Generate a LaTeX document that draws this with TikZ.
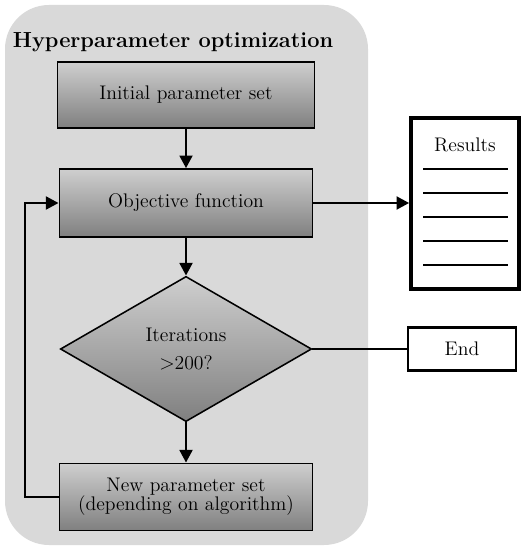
\documentclass[tikz,border=0pt]{standalone}
\usetikzlibrary{arrows.meta,shapes.geometric}
\definecolor{panelgray}{HTML}{D9D9D9}
\tikzset{
  box/.style={draw, line width=1.1pt, top color=gray!38, bottom color=gray!100,
    minimum width=6.33cm, minimum height=1.7cm, align=center, inner sep=2pt,
    font=\fontsize{14}{15.5}\selectfont},
  arr/.style={line width=2pt, -{Triangle[length=9pt,width=9pt]}, line join=miter}
}
\begin{document}
\begin{tikzpicture}[x=0.025cm,y=-0.025cm]
    \useasboundingbox (0,0) rectangle (530,550);
    % grey panel
    \fill[panelgray, rounded corners=1.1cm] (5,5) rectangle (368,545);
    \node (title) at (173,42) {\fontsize{15.5}{17}\selectfont\bfseries Hyperparameter optimization};
    % flow
    \node[box, minimum width=6.42cm, minimum height=1.65cm] (init) at (186,95) {Initial parameter set};
    \node[box] (obj) at (186,203) {Objective function};
    \node[box, shape=diamond, minimum width=6.28cm, minimum height=3.63cm, aspect=1.73, inner sep=0pt]
        (iter) at (186,349) {Iterations\\[4pt]$>$200?};
    \node[box, minimum height=1.68cm, font=\fontsize{14}{13.5}\selectfont] (new) at (186,497) {New parameter set\\(depending on algorithm)};
    % outputs
    \node[draw, fill=white, line width=2.5pt, minimum width=2.7cm, minimum height=4.28cm] (res) at (465,203.5) {};
    \node[font=\fontsize{14}{15.5}\selectfont] (restxt) at (465,145) {Results};
    \foreach \y in {169,193,217,241,265}
        \draw[line width=0.8pt] (423,\y) -- (508,\y);
    \node[draw, fill=white, line width=2pt, minimum width=2.7cm, minimum height=1.08cm,
        font=\fontsize{14}{15.5}\selectfont] (end) at (462,349) {End};
    \coordinate (fb) at (25,300);
    % connectors
    \draw[arr] (init) -- (obj);
    \draw[arr] (obj) -- (iter);
    \draw[arr] (iter) -- (new);
    \draw[arr] (new.west) -| (fb) |- (obj.west);
    \draw[arr] (obj.east) -- (obj.east -| res.west);
    \draw[line width=2pt] (iter.east) -- (end.west);
\end{tikzpicture}
\end{document}
